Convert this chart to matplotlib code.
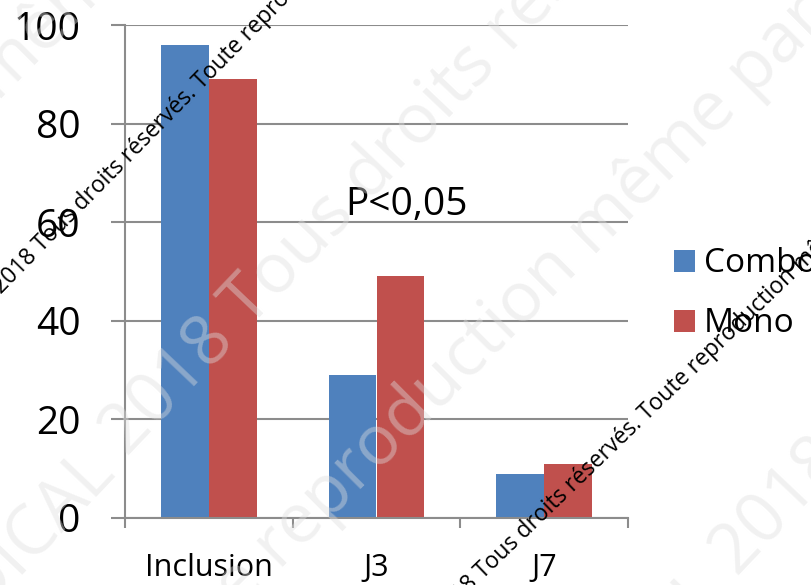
import numpy as np
import matplotlib.pyplot as plt

plt.rcParams['font.family'] = ['Open Sans', 'DejaVu Sans']

# bar values per time point
categories = ['Inclusion', 'J3', 'J7']
combo = [96, 29, 9]
mono = [89, 49, 11]
yticks = [0, 20, 40, 60, 80, 100]

W, H = 811, 585
fig = plt.figure(figsize=(W / 100, H / 100), dpi=100)
ax = fig.add_axes([125 / W, 1 - 518 / H, 503 / W, 493 / H])

x = np.arange(len(categories))
w = 1 / 3.5
ax.bar(x - w / 2, combo, w, color='#4F81BD', label='Combo', zorder=2)
ax.bar(x + w / 2, mono, w, color='#C0504D', label='Mono', zorder=2)

ax.set_xlim(-0.5, len(categories) - 0.5)
ax.set_ylim(0, 100)
ax.set_yticks(yticks)
ax.yaxis.grid(True, color='#8c8c8c', lw=1.5, zorder=0)
ax.set_axisbelow(True)

for side in ['top', 'right']:
    ax.spines[side].set_visible(False)
for side in ['left', 'bottom']:
    ax.spines[side].set_color('#8c8c8c')
    ax.spines[side].set_linewidth(1.5)

ax.tick_params(axis='y', length=10, width=1.5, color='#8c8c8c', labelsize=28, pad=22)

# tick marks between groups, labels centred under each group
ax.set_xticks(np.arange(len(categories) + 1) - 0.5)
ax.set_xticklabels([])
ax.tick_params(axis='x', which='major', length=7, width=1.5, color='#8c8c8c')
ax.set_xticks(x, minor=True)
ax.set_xticklabels(categories, minor=True)
ax.tick_params(axis='x', which='minor', length=0, labelsize=22, pad=25)

ax.text(1.18, 61.5, 'P<0,05', ha='center', va='baseline', fontsize=28)

ax.legend(loc='center left', bbox_to_anchor=(674 / W, 1 - 294 / H),
          bbox_transform=fig.transFigure, frameon=False, fontsize=24,
          borderaxespad=0, borderpad=0, handlelength=0.63, handleheight=0.63,
          handletextpad=0.27, labelspacing=0.81)


def stamp(before, after, px, py, size, angle, **kw):
    # text split around an anchor point given in pixels
    fx, fy = px / W, 1 - py / H
    for s, ha in [(before, 'right'), (after, 'left')]:
        fig.text(fx, fy, s, ha=ha, va='baseline', rotation=angle,
                 rotation_mode='anchor', fontsize=size, **kw)


faint = dict(color='#dedede', alpha=0.42, zorder=5)
stamp('Tous droits réservés. Toute reproduction', ' même partielle interdite',
      -15, 115, 50, 45, **faint)
stamp('MÉDICAL', ' 2018 Tous droits réservés. Toute reproduction',
      115, 470, 50, 46.5, **faint)
stamp('Tous droits réservés. Toute reproduction', ' même partielle interdite',
      580, 270, 50, 45, **faint)
stamp('MÉDICAL', ' 2018 Tous droits réservés. Toute reproduction',
      725, 590, 50, 46.5, **faint)

dark = dict(color='black', zorder=6)
stamp('MÉDICAL 2018', ' Tous droits réservés. Toute reproduction même partielle interdite',
      38, 257, 16.5, 45.5, **dark)
stamp('MÉDICAL 2018', ' Tous droits réservés. Toute reproduction même partielle interdite',
      479, 584, 16.5, 44, **dark)

fig.savefig('out.png', dpi=100)
